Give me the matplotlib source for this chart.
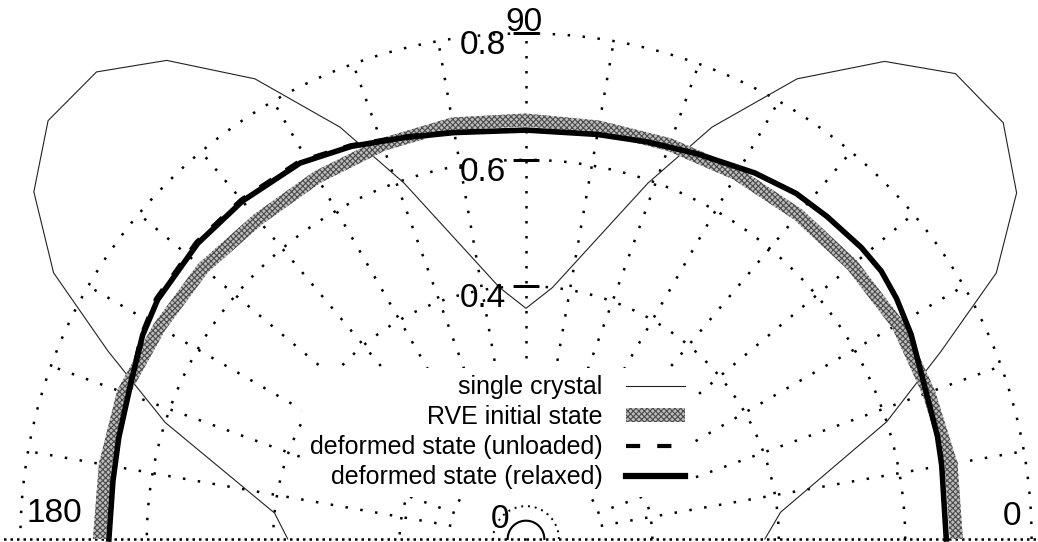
import numpy as np
import matplotlib
matplotlib.use('Agg')
import matplotlib.pyplot as plt
from matplotlib.patches import Patch
from matplotlib.lines import Line2D

plt.rcParams['font.family'] = ['Liberation Sans', 'DejaVu Sans']
plt.rcParams['hatch.linewidth'] = 0.8

# single crystal polygon: direction (deg) and value
crystal_deg = [0, 6, 18, 24.3, 29.5, 35.2, 41.1, 47.3, 53.1, 59.5, 65.7, 71.1, 84, 90,
               96, 108.9, 114.3, 120.5, 126.9, 132.6, 138.8, 144.8, 150.6, 155.8, 162.1, 174.1, 180]
crystal_r = [0.378, 0.405, 0.600, 0.720, 0.855, 0.950, 1.002, 1.002, 0.945, 0.845, 0.715, 0.595, 0.400, 0.365,
             0.400, 0.595, 0.715, 0.845, 0.947, 1.004, 1.005, 0.953, 0.858, 0.725, 0.600, 0.400, 0.377]

# RVE before deformation
rve_deg = [0, 10, 20, 30, 40, 50, 60, 70, 80, 90, 100, 110, 120, 130, 140, 150, 160, 170, 180]
rve_r = [0.681, 0.683, 0.678, 0.679, 0.674, 0.670, 0.667, 0.664, 0.662, 0.663,
         0.667, 0.664, 0.661, 0.660, 0.667, 0.670, 0.678, 0.676, 0.675]

# deformed RVE
def_deg = [0, 10, 14, 22, 28, 33, 37, 41, 47, 52, 58, 66, 73, 80, 90,
           100, 107, 114, 121, 130, 138, 147, 152, 158, 166, 172, 180]
relaxed_r = [0.665, 0.668, 0.671, 0.677, 0.690, 0.699, 0.704, 0.703, 0.698, 0.694, 0.683, 0.667, 0.657, 0.650, 0.647,
             0.653, 0.664, 0.680, 0.694, 0.698, 0.699, 0.695, 0.687, 0.673, 0.664, 0.660, 0.660]
unloaded_r = [0.665, 0.668, 0.671, 0.677, 0.690, 0.699, 0.704, 0.703, 0.698, 0.694, 0.683, 0.667, 0.657, 0.650, 0.647,
              0.654, 0.666, 0.682, 0.697, 0.701, 0.702, 0.698, 0.689, 0.674, 0.664, 0.660, 0.660]

labels = ['single crystal', 'RVE initial state', 'deformed state (unloaded)', 'deformed state (relaxed)']
rings = [0.2, 0.4, 0.6, 0.8]
tick_vals = [0.4, 0.6, 0.8]
spokes = np.arange(10, 180, 10)

W, H = 1038, 542
fig = plt.figure(figsize=(W / 100, H / 100), dpi=100)
cx, cy, scale, rmax = 526, 3, 632.0, 1.05
R = rmax * scale
ax = fig.add_axes([(cx - R) / W, (cy - R) / H, 2 * R / W, 2 * R / H], projection='polar')
ax.set_ylim(0, rmax)
ax.set_axis_off()

# dotted grid
dots = dict(color='k', lw=1.8, ls=(0, (1, 5)), dash_capstyle='butt', zorder=1)
th = np.linspace(0, np.pi, 721)
for rv in rings:
    ax.plot(th, np.full_like(th, rv), **dots)
ax.plot(th, np.full_like(th, 0.052), **dict(dots, lw=1.4, ls=(0, (1, 2.5))))
for d in spokes:
    t = np.deg2rad(d)
    ax.plot([t, t], [0.12, 0.8], **dots)
base = dict(dots, ls=(0, (1, 1.6)))
ax.plot([0, 0], [0, rmax], **base)
ax.plot([np.pi, np.pi], [0, rmax], **base)
ax.plot(th, np.full_like(th, 0.029), color='k', lw=1.5, zorder=1)

# radial ticks and labels
ax.plot(np.full(len(tick_vals), np.pi / 2), tick_vals, ls='none', marker='_', ms=19, mew=1.8, color='k', zorder=4)
for v in tick_vals:
    ax.annotate(f'{v:.1f}', xy=(np.pi / 2, v), xytext=(-20, 3), textcoords='offset pixels',
                ha='right', va='top', fontsize=24, zorder=5)
ax.annotate('0', xy=(np.pi / 2, 0.05), xytext=(-17, 3), textcoords='offset pixels',
            ha='right', va='top', fontsize=24, zorder=5)
ax.annotate('90', xy=(np.pi / 2, 0.8), xytext=(-2, 2), textcoords='offset pixels',
            ha='center', va='baseline', fontsize=24)
ax.annotate('180', xy=(np.pi, 0.8), xytext=(6, 17), textcoords='offset pixels',
            ha='left', va='baseline', fontsize=24)
ax.annotate('0', xy=(0, 0.8), xytext=(-10, 14), textcoords='offset pixels',
            ha='right', va='baseline', fontsize=24)

# curves
ax.plot(np.deg2rad(crystal_deg), crystal_r, color='#222222', lw=0.8, zorder=2)

rt = np.deg2rad(rve_deg)
half = 6.5 / scale
band_t = np.concatenate([rt, rt[::-1]])
band_r = np.concatenate([np.array(rve_r) + half, np.array(rve_r)[::-1] - half])
ax.fill(band_t, band_r, facecolor='#bdbdbd', edgecolor='#4a4a4a', hatch='xxxxxx', lw=0, zorder=2.5)

dt = np.deg2rad(def_deg)
ax.plot(dt, unloaded_r, color='k', lw=3, ls=(0, (3.4, 4.1)), zorder=2.8)
ax.plot(dt, relaxed_r, color='k', lw=4, zorder=3)

handles = [
    Line2D([], [], color='#222222', lw=0.8),
    Patch(facecolor='#bdbdbd', edgecolor='#4a4a4a', hatch='xxxxxx', lw=0),
    Line2D([], [], color='k', lw=3, ls=(0, (3.4, 4.1))),
    Line2D([], [], color='k', lw=4.5),
]
leg = ax.legend(handles, labels, loc='upper right', bbox_to_anchor=(705 / W, 1 - 355 / H),
                bbox_transform=fig.transFigure, markerfirst=False, fontsize=18,
                handlelength=2.35, handleheight=0.5, handletextpad=0.95, labelspacing=0.24,
                borderpad=0.3, frameon=True, fancybox=False, framealpha=1,
                facecolor='white', edgecolor='none')
leg.set_zorder(6)

fig.savefig('out.png', dpi=100)
